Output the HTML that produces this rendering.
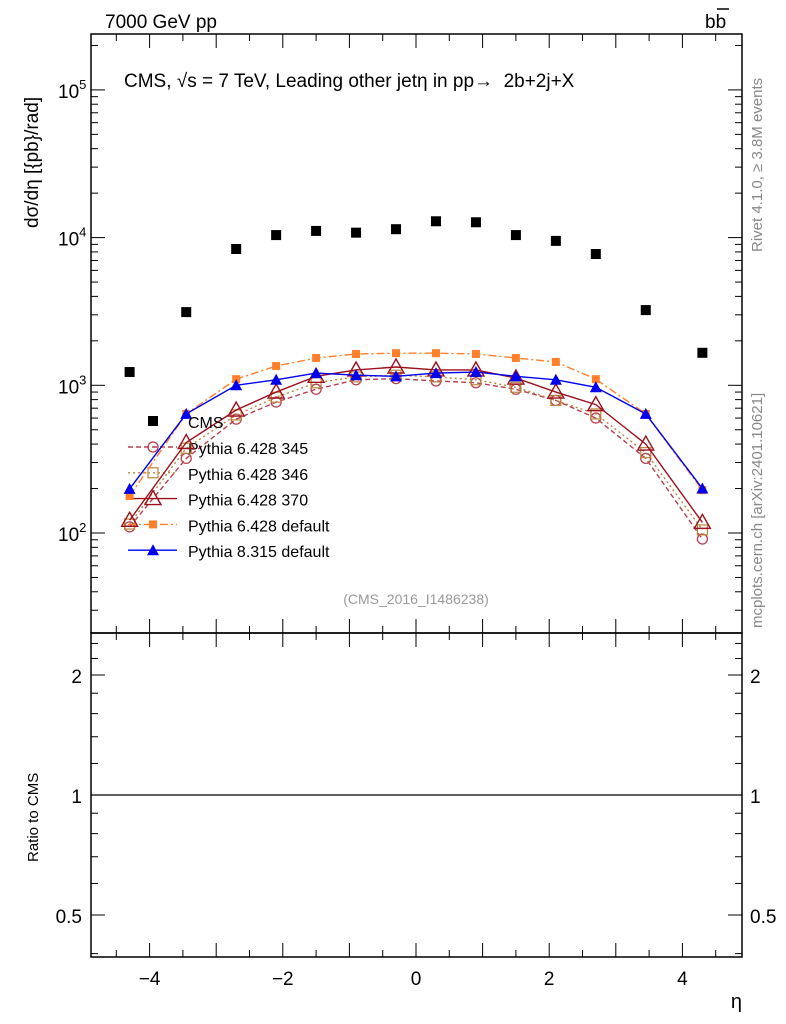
<!DOCTYPE html>
<html><head><meta charset="utf-8">
<style>
html,body{margin:0;padding:0;background:#fff;}
svg{display:block;font-family:"Liberation Sans",Arial,sans-serif;}
</style></head>
<body>
<svg id="chart" width="786" height="1024" viewBox="0 0 786 1024" xmlns="http://www.w3.org/2000/svg">
<g id="g"></g>
</svg>
<script>
const etaBins=[-4.3,-3.45,-2.7,-2.1,-1.5,-0.9,-0.3,0.3,0.9,1.5,2.1,2.7,3.45,4.3];
const cmsVals=[1230,3130,8370,10400,11100,10800,11400,12900,12700,10400,9500,7740,3230,1660];
const p345=[110,320,590,770,940,1090,1110,1070,1040,940,790,600,320,91];
const p346=[115,375,630,830,1040,1140,1170,1140,1090,970,790,640,350,105];
const p370=[122,410,680,900,1150,1270,1330,1270,1270,1120,900,740,400,118];
const pdef=[178,640,1100,1350,1530,1630,1650,1650,1630,1530,1440,1100,640,195];
const p8=[199,640,1000,1090,1210,1170,1150,1210,1230,1150,1090,970,640,200];
const xTicks=[-4,-2,0,2,4];
const ratioTicks=[0.5,1,2];

const NS="http://www.w3.org/2000/svg";
const G=document.getElementById('g');
const L=91,R=742,T=34,B=633,RB=957;
const X=v=>416+(v)*66.6;
const Y=v=>533-(Math.log10(v)-2)*147.7;
const RY=v=>795-Math.log2(v)*120;
function el(t,a,p){const e=document.createElementNS(NS,t);for(const k in a)e.setAttribute(k,a[k]);(p||G).appendChild(e);return e;}
function txt(x,y,s,a){const e=el('text',Object.assign({x:x,y:y},a||{}));e.textContent=s;return e;}

const f1=el('rect',{x:L,y:T,width:R-L,height:B-T,fill:'none',stroke:'#000','stroke-width':1.5});


const f2=el('rect',{x:L,y:B,width:R-L,height:RB-B,fill:'none',stroke:'#000','stroke-width':1.5});



for(let v=-4.5;v<=4.51;v+=0.5){
  const x=X(v);const maj=Math.abs(v-Math.round(v))<1e-6;const len=maj?14:7;
  [[T,1],[B,-1],[B,1],[RB,-1]].forEach(([y0,d])=>el('line',{x1:x,x2:x,y1:y0,y2:y0+d*len,stroke:'#000'}));
}
xTicks.forEach(v=>{const t=txt(X(v),985,(v<0?'\u2212':'')+Math.abs(v),{'font-size':19,'text-anchor':'middle'});
 
 });
for(let d=1;d<=5;d++){for(let m=1;m<10;m++){const v=m*Math.pow(10,d);const y=Y(v);if(y<T||y>B)continue;const len=m==1?14:7;
 el('line',{x1:L,x2:L+len,y1:y,y2:y,stroke:'#000'});el('line',{x1:R,x2:R-len,y1:y,y2:y,stroke:'#000'});}}
[2,3,4,5].forEach(d=>{const t=el('text',{x:58,y:Y(Math.pow(10,d))+8,'font-size':19});
 t.innerHTML='10<tspan dy="-9" font-size="13">'+d+'</tspan>';});
[0.4,0.5,0.6,0.7,0.8,0.9,1,1.2,1.4,1.6,1.8,2,2.2,2.4].forEach(v=>{const y=RY(v);if(y<B||y>RB)return;const maj=ratioTicks.includes(v);const len=maj?14:7;
 el('line',{x1:L,x2:L+len,y1:y,y2:y,stroke:'#000'});el('line',{x1:R,x2:R-len,y1:y,y2:y,stroke:'#000'});});
ratioTicks.forEach(v=>{const s=String(v);
 const a=txt(82,RY(v)+8,s,{'font-size':19,'text-anchor':'end'});
 const b=txt(750,RY(v)+8,s,{'font-size':19});});
const rl=el('line',{x1:L,x2:R,y1:RY(1),y2:RY(1),stroke:'#000','stroke-width':1.3});



let t;
t=txt(105,28,'7000 GeV pp',{'font-size':19});
t=txt(705,28,'bb',{'font-size':19});
el('line',{x1:717,x2:729,y1:9,y2:9,stroke:'#000','stroke-width':1.5});
t=txt(124,87,'CMS, \u221As = 7 TeV, Leading other jet\u03b7 in pp\u2192\u00a0\u00a02b+2j+X',{'font-size':19});
t=txt(0,0,'d\u03c3/d\u03b7 [{pb}/rad]',{'font-size':19,transform:'translate(38,228) rotate(-90)'});
t=txt(0,0,'Ratio to CMS',{'font-size':15,transform:'translate(38,862) rotate(-90)'});
t=txt(742,1008,'\u03b7',{'font-size':20,'text-anchor':'end'});
t=txt(416,604,'(CMS_2016_I1486238)',{'font-size':14,'text-anchor':'middle',fill:'#999'});
t=txt(0,0,'Rivet 4.1.0, \u2265 3.8M events',{'font-size':15,fill:'#888',transform:'translate(762,252) rotate(-90)'});
t=txt(0,0,'mcplots.cern.ch [arXiv:2401.10621]',{'font-size':15,fill:'#888',transform:'translate(762,628) rotate(-90)'});

function marker(type,x,y,c,p){
 if(type=='sq')return el('rect',{x:x-5,y:y-5,width:10,height:10,fill:c},p);
 if(type=='sqs')return el('rect',{x:x-4,y:y-4,width:8,height:8,fill:c},p);
 if(type=='osq')return el('rect',{x:x-5,y:y-5,width:10,height:10,fill:'none',stroke:c,'stroke-width':1.2},p);
 if(type=='oc')return el('circle',{cx:x,cy:y,r:5,fill:'none',stroke:c,'stroke-width':1.3},p);
 if(type=='otri')return el('path',{d:`M${x} ${y-8}L${x+8} ${y+6}L${x-8} ${y+6}Z`,fill:'none',stroke:c,'stroke-width':1.4},p);
 if(type=='tri')return el('path',{d:`M${x} ${y-6}L${x+6} ${y+5}L${x-6} ${y+5}Z`,fill:c},p);
}
const series=[
 {name:'Pythia 6.428 345',vals:p345,c:'#b5404f',dash:'5,3',m:'oc',key:'p345'},
 {name:'Pythia 6.428 346',vals:p346,c:'#b8863b',dash:'2,3',m:'osq',key:'p346'},
 {name:'Pythia 6.428 370',vals:p370,c:'#9b111e',dash:'',m:'otri',key:'p370'},
 {name:'Pythia 6.428 default',vals:pdef,c:'#ff7f2a',dash:'8,3,2,3',m:'sqs',key:'pdef'},
 {name:'Pythia 8.315 default',vals:p8,c:'#0000ee',dash:'',m:'tri',key:'p8'}
];
series.forEach((s,i)=>{
 const g=el('g',{});
 const pts=etaBins.map((e,j)=>X(e)+','+Y(s.vals[j])).join(' ');
 el('polyline',{points:pts,fill:'none',stroke:s.c,'stroke-width':1.4,'stroke-dasharray':s.dash},g);
 etaBins.forEach((e,j)=>marker(s.m,X(e),Y(s.vals[j]),s.c,g));
 const ly=447+i*25.8;
 const lg=el('g',{});
 el('line',{x1:128,x2:177,y1:ly,y2:ly,stroke:s.c,'stroke-width':1.4,'stroke-dasharray':s.dash},lg);
 marker(s.m,153,ly,s.c,lg);
 txt(188,ly+7,s.name,{'font-size':16},lg);
});
const cg=el('g',{});
etaBins.forEach((e,j)=>marker('sq',X(e),Y(cmsVals[j]),'#000',cg));
const lc=el('g',{});
marker('sq',153,421,'#000',lc);txt(188,428,'CMS',{'font-size':16},lc);
</script>
</body></html>
